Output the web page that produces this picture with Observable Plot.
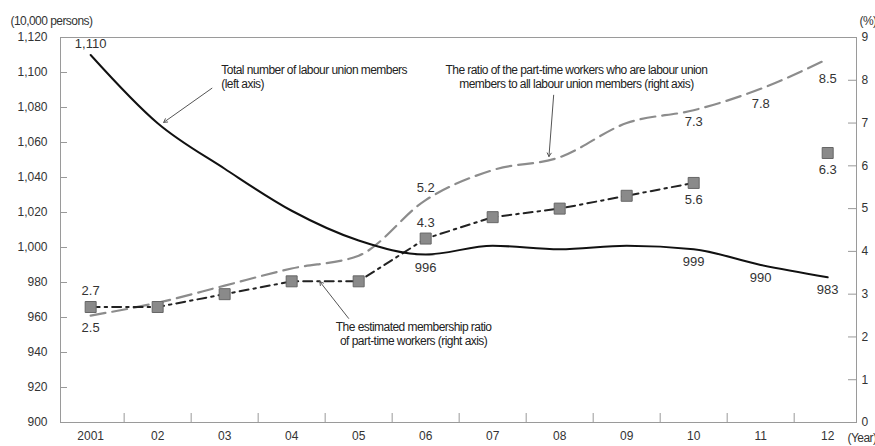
<!DOCTYPE html>
<html>
<head>
<meta charset="utf-8">
<script src="https://cdn.jsdelivr.net/npm/d3@7"></script>
<script src="https://cdn.jsdelivr.net/npm/@observablehq/plot@0.6"></script>
<style>
  body { margin: 0; background: #fff; }
  #chart svg { display: block; }
  /* condensed look for the series notes and axis titles */
  #chart g[font-family*="Narrow"] text { letter-spacing: -0.55px; }
</style>
</head>
<body>
<div id="chart"></div>
<script>
// Survey years and their axis labels
const years = [2001, 2002, 2003, 2004, 2005, 2006, 2007, 2008, 2009, 2010, 2011, 2012];
const yearLabels = ["2001", "02", "03", "04", "05", "06", "07", "08", "09", "10", "11", "12"];

// Total number of labour union members (10,000 persons, left axis)
const unionMembers = [1110, 1071, 1045, 1021, 1004, 996, 1001, 999, 1001, 999, 990, 983];
// Part-time union members as a share of all union members (%, right axis)
const partTimeShare = [2.5, 2.8, 3.2, 3.6, 3.9, 5.2, 5.9, 6.2, 7.0, 7.3, 7.8, 8.5];
// Estimated membership ratio of part-time workers (%, right axis); no figure for 2011
const partTimeRate = [2.7, 2.7, 3.0, 3.3, 3.3, 4.3, 4.8, 5.0, 5.3, 5.6, null, 6.3];

// Axis ticks
const leftTicks = [900, 920, 940, 960, 980, 1000, 1020, 1040, 1060, 1080, 1100, 1120];
const rightTicks = [0, 1, 2, 3, 4, 5, 6, 7, 8, 9];

// Series annotations
const noteMembers = "Total number of labour union members\n(left axis)";
const noteShare = "The ratio of the part-time workers who are labour union\nmembers to all labour union members (right axis)";
const noteRate = "The estimated membership ratio\nof part-time workers (right axis)";

// The right axis (0–9 %) shares the plot height with the left axis (900–1,120)
const L0 = 900, L1 = 1120, R0 = 0, R1 = 9;
const toLeft = p => L0 + (p - R0) * (L1 - L0) / (R1 - R0);
const fromLeft = v => R0 + (v - L0) * (R1 - R0) / (L1 - L0);

const rows = years.map((year, i) => ({
  year,
  label: yearLabels[i],
  members: unionMembers[i],
  share: partTimeShare[i],
  rate: partTimeRate[i]
}));
const boundaries = years.slice(0, -1).map(y => y + 0.5);

const tickFont = "Liberation Sans, Arial, sans-serif";
const narrowFont = "Liberation Sans Narrow, Liberation Sans, Arial, sans-serif";

const fmtComma = d3.format(",");
const fmtPct = d3.format(".1f");

const pick = list => rows.filter(d => list.includes(d.year));
const valueText = { fontSize: 13, fill: "#333", fontFamily: tickFont };
const noteText = { lineAnchor: "top", lineHeight: 1.15, fontSize: 12, fontFamily: narrowFont, fill: "#222" };

const chart = Plot.plot({
  width: 875,
  height: 446,
  marginLeft: 60,
  marginRight: 19,
  marginTop: 37,
  marginBottom: 24,
  style: { fontFamily: tickFont, background: "#fff", overflow: "visible" },
  x: { type: "linear", domain: [2000.55, 2012.43], axis: null },
  y: { domain: [L0, L1], axis: null },
  marks: [
    Plot.frame({ stroke: "#9a9a9a", strokeWidth: 1 }),

    // left axis
    Plot.axisY(leftTicks, {
      anchor: "left", tickSize: 7, insetLeft: 7, tickPadding: 13,
      tickFormat: fmtComma, fontSize: 12, stroke: "#999", fill: "#333"
    }),
    // right axis (percent)
    Plot.axisY(rightTicks.map(toLeft), {
      anchor: "right", tickSize: 9, insetRight: 9, tickPadding: 5,
      tickFormat: v => Math.round(fromLeft(v)), fontSize: 12, stroke: "#999", fill: "#333"
    }),
    // year labels and the separators between years
    Plot.axisX(years, {
      anchor: "bottom", tickSize: 0, tickPadding: 9,
      tickFormat: y => yearLabels[years.indexOf(y)], fontSize: 12, fill: "#333"
    }),
    Plot.axisX(boundaries, {
      anchor: "bottom", tickSize: 9, insetBottom: 9, tickFormat: () => "", stroke: "#999"
    }),

    // axis titles
    Plot.text(["(10,000 persons)"], {
      frameAnchor: "top-left", dx: -50, dy: -21, textAnchor: "start",
      fontSize: 12, fontFamily: narrowFont, fill: "#333"
    }),
    Plot.text(["(%)"], {
      frameAnchor: "top-right", dx: 3, dy: -21, textAnchor: "start",
      fontSize: 12, fontFamily: narrowFont, fill: "#333"
    }),
    Plot.text(["(Year)"], {
      frameAnchor: "bottom-right", dx: -9, dy: 19, textAnchor: "start",
      fontSize: 12, fontFamily: narrowFont, fill: "#333"
    }),

    // series
    Plot.line(rows, {
      x: "year", y: d => toLeft(d.share),
      stroke: "#8c8c8c", strokeWidth: 2.2, strokeDasharray: "15,7", curve: "monotone-x"
    }),
    Plot.line(rows, {
      x: "year", y: d => (d.rate == null ? NaN : toLeft(d.rate)),
      stroke: "#222", strokeWidth: 2, strokeDasharray: "9,5,2.5,5"
    }),
    Plot.line(rows, {
      x: "year", y: "members",
      stroke: "#111", strokeWidth: 2, curve: "monotone-x"
    }),
    Plot.dot(rows.filter(d => d.rate != null), {
      x: "year", y: d => toLeft(d.rate),
      symbol: "square", r: 6.2, fill: "#8a8a8a", stroke: "#666", strokeWidth: 1
    }),

    // value labels: total members
    Plot.text(pick([2001]), {
      x: "year", y: "members", text: d => fmtComma(d.members), dy: -11, ...valueText
    }),
    Plot.text(pick([2006, 2010, 2011, 2012]), {
      x: "year", y: "members", text: d => fmtComma(d.members), dy: 13, ...valueText
    }),
    // value labels: part-time share of members
    Plot.text(pick([2006]), {
      x: "year", y: d => toLeft(d.share), text: d => fmtPct(d.share), dy: -12, ...valueText
    }),
    Plot.text(pick([2001, 2010]), {
      x: "year", y: d => toLeft(d.share), text: d => fmtPct(d.share), dy: 12, ...valueText
    }),
    Plot.text(pick([2011]), {
      x: "year", y: d => toLeft(d.share), text: d => fmtPct(d.share), dy: 15, ...valueText
    }),
    Plot.text(pick([2012]), {
      x: "year", y: d => toLeft(d.share), text: d => fmtPct(d.share), dy: 20, ...valueText
    }),
    // value labels: estimated membership ratio
    Plot.text(pick([2001, 2006]), {
      x: "year", y: d => toLeft(d.rate), text: d => fmtPct(d.rate), dy: -16, ...valueText
    }),
    Plot.text(pick([2010, 2012]), {
      x: "year", y: d => toLeft(d.rate), text: d => fmtPct(d.rate), dy: 17, ...valueText
    }),

    // annotations with pointer arrows
    Plot.arrow([
      { x1: 2002.81, y1: 1091, x2: 2002.09, y2: 1071.5 },
      { x1: 2007.91, y1: 1087, x2: 2007.84, y2: 1052 },
      { x1: 2004.85, y1: 959.5, x2: 2004.42, y2: 980.5 }
    ], {
      x1: "x1", y1: "y1", x2: "x2", y2: "y2",
      stroke: "#555", strokeWidth: 1, headLength: 6, bend: 0
    }),
    Plot.text([noteMembers], { x: 2002.95, y: 1104.9, textAnchor: "start", ...noteText }),
    Plot.text([noteShare], { x: 2008.25, y: 1104.9, textAnchor: "middle", ...noteText }),
    Plot.text([noteRate], { x: 2005.82, y: 958, textAnchor: "middle", ...noteText })
  ]
});

document.getElementById("chart").append(chart);
</script>
</body>
</html>
